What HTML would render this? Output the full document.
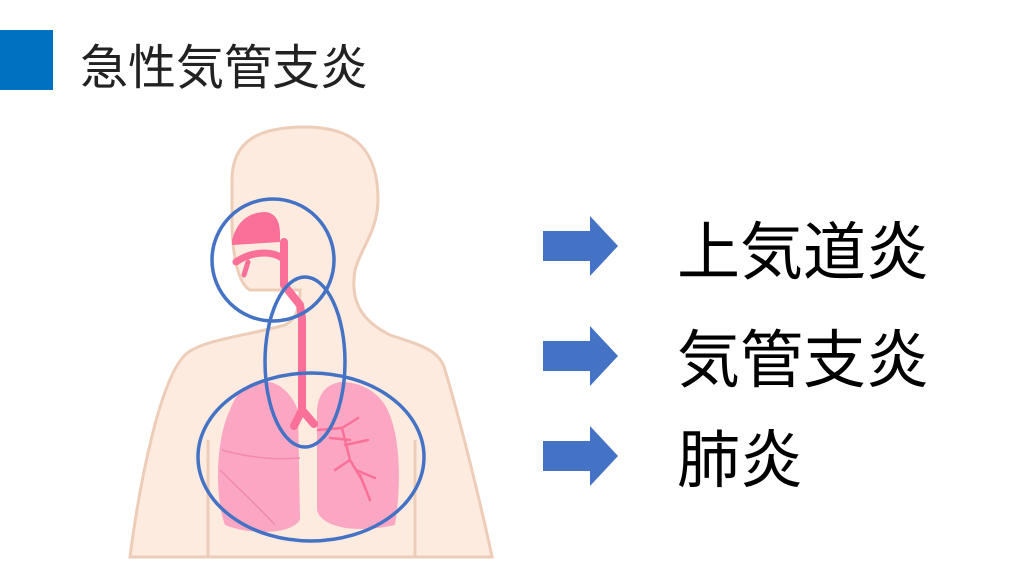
<!DOCTYPE html>
<html><head><meta charset="utf-8"><style>
body{margin:0;width:1024px;height:576px;background:#fff;overflow:hidden;position:relative;font-family:"Liberation Sans","Noto Sans CJK JP",sans-serif}
.t{position:absolute;color:#000;white-space:nowrap}
</style></head><body>
<div style="position:absolute;left:0;top:30px;width:53px;height:60px;background:#0070c0"></div>
<div class="t" style="left:80px;top:28px;font-size:48px;color:#222">急性気管支炎</div>
<svg width="1024" height="576" style="position:absolute;left:0;top:0">
<g fill="#fdebe0" stroke="#edcdb8" stroke-width="3">
<path d="M130,557 C140,480 160,380 185,355 C200,340 250,335 285,325 C295,320 300,310 300,290 L250,290 C240,285 232,260 232,220 L232,180 C232,140 260,127 305,127 C355,127 378,150 378,200 C378,230 360,250 355,270 C350,300 360,320 390,335 C420,345 440,350 445,370 C460,420 480,500 492,557 Z"/>
</g>
<g stroke="#edcdb8" stroke-width="3" fill="none">
<path d="M208,440 L208,557"/><path d="M415,440 L415,557"/>
</g>
<g fill="#fba6c2">
<path d="M255,382 C275,378 290,390 298,410 L300,520 C290,535 250,535 225,525 C215,500 215,440 230,410 C235,395 245,385 255,382Z"/>
<path d="M340,382 C325,385 318,395 317,410 L317,510 C320,525 350,535 395,525 C402,480 400,430 385,405 C375,390 360,382 340,382Z"/>
</g>
<g stroke="#f28aaa" stroke-width="1.5" fill="none">
<path d="M222,450 C250,458 275,460 300,458"/><path d="M220,470 C240,490 262,510 275,525"/>
</g>
<g fill="#fb7099">
<path d="M232,240 C238,218 252,212 266,212 C278,214 280,225 280,235 L280,242 L232,245Z"/>
</g>
<g stroke="#fb7099" fill="none" stroke-linecap="round" stroke-linejoin="round">
<path d="M284,242 L284,285 L300,305 L302,318 L302,410 L294,426 M302,410 L314,424" stroke-width="8"/>
<path d="M236,262 C250,252 270,250 282,258" stroke-width="7"/>
<path d="M248,262 L244,275" stroke-width="5"/>
<path d="M318,430 L342,428 L358,418 M342,428 L350,460 L362,480 M345,445 L368,440 M350,460 L335,470 M356,470 L375,478 M360,475 L370,500 M350,440 L330,438" stroke-width="2.5"/>
</g>
<g fill="none" stroke="#4472c4" stroke-width="3.5">
<circle cx="273" cy="260" r="61"/>
<ellipse cx="305" cy="362" rx="40" ry="85"/>
<ellipse cx="311" cy="457" rx="113" ry="84"/>
</g>
<g fill="#4472c4">
<path d="M543,231 L590,231 L590,216 L618,246 L590,276 L590,261 L543,261Z"/>
<path d="M543,341 L590,341 L590,326 L618,356 L590,386 L590,371 L543,371Z"/>
<path d="M543,441 L590,441 L590,426 L618,456 L590,486 L590,471 L543,471Z"/>
</g>
</svg>
<div class="t" style="left:677px;top:202px;font-size:63px">上気道炎</div>
<div class="t" style="left:677px;top:310px;font-size:63px">気管支炎</div>
<div class="t" style="left:677px;top:410px;font-size:63px">肺炎</div>
</body></html>
